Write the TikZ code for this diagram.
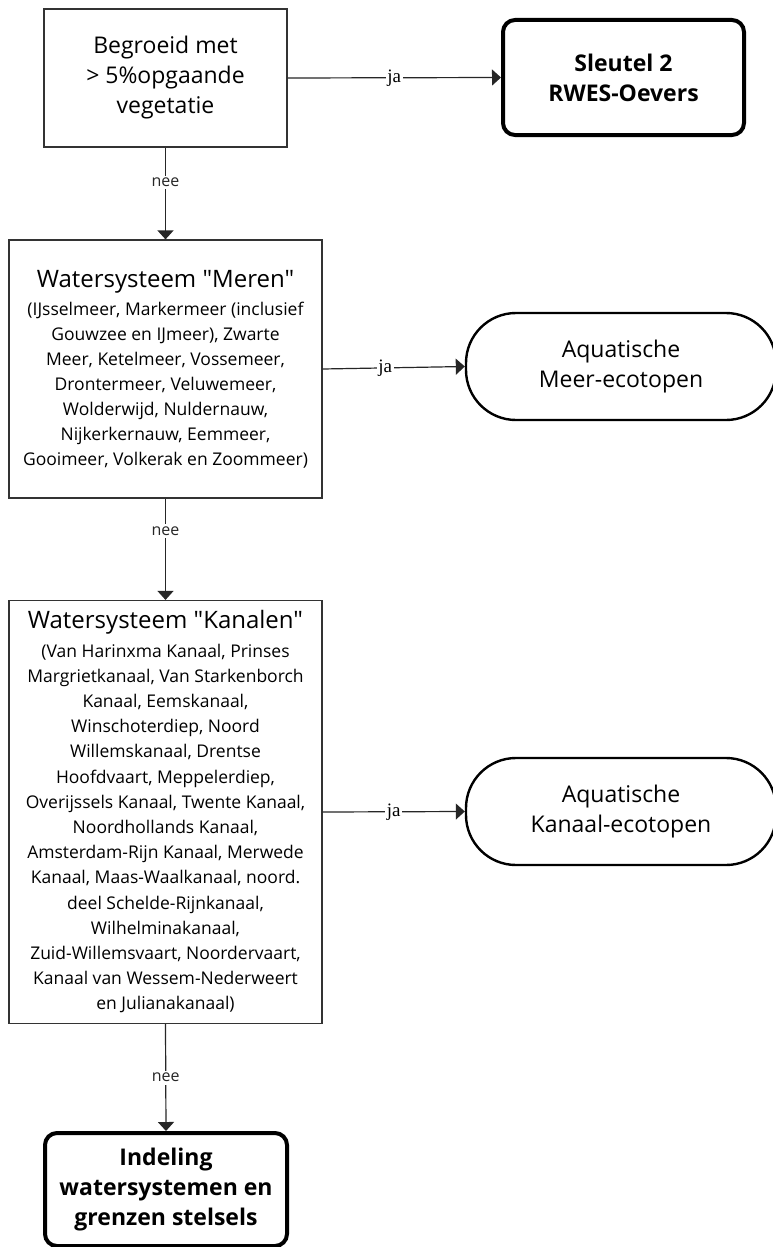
\documentclass[tikz,border=0pt]{standalone}
\usepackage{fontspec}
\setmainfont{Open Sans}[Ligatures=TeXOff]
\newfontfamily\serifja{Liberation Serif}
\usetikzlibrary{arrows.meta}
\begin{document}
\begin{tikzpicture}[x=1pt,y=-1pt,
  plainbox/.style={draw=black!80, line width=1.2pt, align=center, inner sep=0pt, fill=white},
  endbox/.style={draw=black, line width=4pt, rounded corners=12pt, align=center, inner sep=0pt, font=\bfseries\fontsize{23}{30}\selectfont},
  ecobox/.style={draw=black, line width=2.4pt, rounded corners=50pt, align=center, inner sep=0pt, minimum width=310pt, minimum height=107pt, font=\fontsize{23}{30}\selectfont},
  conn/.style={draw=black!85, line width=1.2pt, -{Triangle[length=9pt,width=16pt]}},
  jalab/.style={fill=white, inner sep=1.5pt, font=\serifja\fontsize{19}{19}\selectfont},
  neelab/.style={fill=white, inner sep=2.5pt, font=\fontsize{16}{16}\selectfont, text=black!85}]
\useasboundingbox (0,0) rectangle (772,1247);
\fill[white] (0,0) rectangle (772,1247);

\node[plainbox, minimum width=243pt, minimum height=138pt, font=\fontsize{23}{30}\selectfont] (b1) at (165.5,78)
  {Begroeid met\\> 5\%opgaande\\vegetatie};
\node[endbox, minimum width=241pt, minimum height=115pt] (s2) at (623.5,77.5)
  {Sleutel 2\\RWES-Oevers};

\node[plainbox, minimum width=313pt, minimum height=258pt, font=\fontsize{17.5}{25}\selectfont] (b2) at (165.5,369)
  {{\fontsize{24}{30}\selectfont Watersysteem "Meren"}\\[3pt]
   (IJsselmeer, Markermeer (inclusief\\
   Gouwzee en IJmeer), Zwarte\\
   Meer, Ketelmeer, Vossemeer,\\
   Drontermeer, Veluwemeer,\\
   Wolderwijd, Nuldernauw,\\
   Nijkerkernauw, Eemmeer,\\
   Gooimeer, Volkerak en Zoommeer)};
\node[ecobox] (m) at (621,366.5) {Aquatische\\Meer-ecotopen};

\node[plainbox, minimum width=313pt, minimum height=423pt, font=\fontsize{17.5}{25.2}\selectfont] (b3) at (165.5,812)
  {{\fontsize{24}{30}\selectfont Watersysteem "Kanalen"}\\[3pt]
   (Van Harinxma Kanaal, Prinses\\
   Margrietkanaal, Van Starkenborch\\
   Kanaal, Eemskanaal,\\
   Winschoterdiep, Noord\\
   Willemskanaal, Drentse\\
   Hoofdvaart, Meppelerdiep,\\
   Overijssels Kanaal, Twente Kanaal,\\
   Noordhollands Kanaal,\\
   Amsterdam-Rijn Kanaal, Merwede\\
   Kanaal, Maas-Waalkanaal, noord.\\
   deel Schelde-Rijnkanaal,\\
   Wilhelminakanaal,\\
   Zuid-Willemsvaart, Noordervaart,\\
   Kanaal van Wessem-Nederweert\\
   en Julianakanaal)};
\node[ecobox] (k) at (621,811.5) {Aquatische\\Kanaal-ecotopen};

\node[endbox, minimum width=242pt, minimum height=113pt] (ind) at (166,1189.5)
  {Indeling\\watersystemen en\\grenzen stelsels};

\draw[conn] (b1.east) -- node[jalab, pos=0.5]{ja} (s2.west);
\draw[conn] (b2.east) -- node[jalab, pos=0.44]{ja} (m.west);
\draw[conn] (b3.east) -- node[jalab, pos=0.5]{ja} (k.west);
\draw[conn] (b1.south) -- node[neelab, pos=0.38]{nee} (b2.north);
\draw[conn] (b2.south) -- node[neelab, pos=0.32]{nee} (b3.north);
\draw[conn] (b3.south) -- node[neelab, pos=0.5]{nee} (ind.north);
\end{tikzpicture}
\end{document}
